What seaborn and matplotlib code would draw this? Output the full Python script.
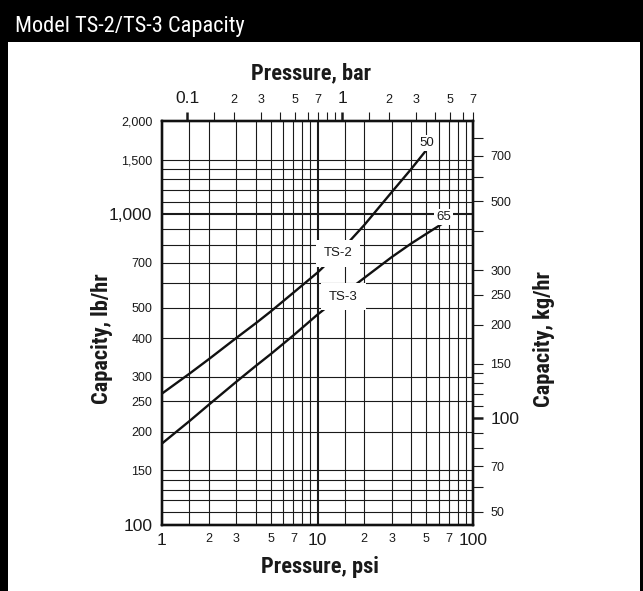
import numpy as np
import pandas as pd
import matplotlib
matplotlib.use("Agg")
import matplotlib.pyplot as plt
import seaborn as sns
from matplotlib import font_manager
from matplotlib.ticker import FixedLocator, FixedFormatter, NullFormatter, NullLocator
from matplotlib.patches import Rectangle

# ---------------- data ----------------
ts2_psi = [1, 1.5, 2, 3, 4, 5, 7, 10, 15, 20, 30, 40, 50]
ts2_lbhr = [265, 307, 342, 400, 446, 487, 560, 650, 790, 925, 1180, 1400, 1610]
ts3_psi = [1, 1.5, 2, 3, 4, 5, 7, 10, 15, 20, 30, 40, 50, 65]
ts3_lbhr = [183, 216, 244, 289, 325, 355, 408, 476, 559, 625, 729, 806, 866, 941]
series_names = ["TS-2", "TS-3"]
end_labels = ["50", "65"]

psi_ticks = [1, 2, 3, 5, 7, 10, 20, 30, 50, 70, 100]
psi_ticklabels = ["1", "2", "3", "5", "7", "10", "2", "3", "5", "7", "100"]
psi_grid = [1.5, 2, 3, 4, 5, 6, 7, 8, 9, 10, 15, 20, 30, 40, 50, 60, 70, 80, 90]
bar_ticks = [0.1, 0.15, 0.2, 0.3, 0.4, 0.5, 0.6, 0.7, 0.8, 0.9, 1, 1.5, 2, 3, 4, 5, 6, 7]
bar_ticklabels = ["0.1", "", "2", "3", "", "5", "", "7", "", "", "1", "", "2", "3", "", "5", "", "7"]
lb_ticks = [100, 150, 200, 250, 300, 400, 500, 700, 1000, 1500, 2000]
lb_ticklabels = ["100", "150", "200", "250", "300", "400", "500", "700", "1,000", "1,500", "2,000"]
lb_grid = [110, 120, 130, 140, 150, 200, 250, 300, 400, 500, 600, 700, 800, 900,
           1000, 1100, 1200, 1300, 1400, 1500]
kg_ticks = [50, 70, 100, 150, 200, 250, 300, 500, 700]
kg_ticklabels = ["50", "70", "100", "150", "200", "250", "300", "500", "700"]
kg_minor = [60, 80, 90, 110, 120, 130, 140, 400, 600, 800]

PSI_PER_BAR = 14.5038
KG_PER_LB = 0.45359

# ---------------- style ----------------
sns.set_style("white")
plt.rcParams["font.family"] = ["Liberation Sans", "DejaVu Sans"]

installed = {f.name for f in font_manager.fontManager.ttflist}
narrow_name = None
for cand in ["Liberation Sans Narrow", "Roboto Condensed", "Open Sans Condensed",
             "Noto Sans Condensed", "DejaVu Sans Condensed"]:
    if cand in installed:
        narrow_name = cand
        break
if narrow_name:
    HEAD = [narrow_name, "Liberation Sans", "DejaVu Sans"]
    head_scale = 1.15
else:
    HEAD = ["Liberation Sans", "DejaVu Sans"]
    head_scale = 1.0

W, H = 643, 591
fig = plt.figure(figsize=(W / 100, H / 100), dpi=100)
fig.patch.set_facecolor("white")

def fx(px):
    return px / W

def fy(py):
    return 1 - py / H

ax_l, ax_t, ax_r, ax_b = 162, 121, 473, 525
ax = fig.add_axes([fx(ax_l), fy(ax_b), (ax_r - ax_l) / W, (ax_b - ax_t) / H])

df = pd.concat([
    pd.DataFrame({"psi": ts2_psi, "lbhr": ts2_lbhr, "model": series_names[0]}),
    pd.DataFrame({"psi": ts3_psi, "lbhr": ts3_lbhr, "model": series_names[1]}),
])
sns.lineplot(data=df, x="psi", y="lbhr", hue="model", estimator=None, sort=False,
             palette={series_names[0]: "#111111", series_names[1]: "#111111"},
             linewidth=1.7, legend=False, ax=ax, zorder=3)

ax.set_xscale("log")
ax.set_yscale("log")
ax.set_xlim(1, 100)
ax.set_ylim(100, 2000)
ax.set_xlabel("")
ax.set_ylabel("")

# grid
for g in psi_grid:
    ax.axvline(g, color="#1a1a1a", lw=1.5 if g == 10 else 0.8, zorder=1)
for g in lb_grid:
    ax.axhline(g, color="#1a1a1a", lw=1.5 if g == 1000 else 0.8, zorder=1)

# bottom ticks
ax.xaxis.set_major_locator(FixedLocator(psi_ticks))
ax.xaxis.set_major_formatter(FixedFormatter(psi_ticklabels))
ax.xaxis.set_minor_locator(NullLocator())
ax.tick_params(axis="x", which="both", length=0, pad=6, labelsize=9, colors="#1a1a1a")
# left ticks
ax.yaxis.set_major_locator(FixedLocator(lb_ticks))
ax.yaxis.set_major_formatter(FixedFormatter(lb_ticklabels))
ax.yaxis.set_minor_locator(NullLocator())
ax.tick_params(axis="y", which="both", length=0, pad=7, labelsize=9, colors="#1a1a1a")

for sp in ax.spines.values():
    sp.set_linewidth(1.6)
    sp.set_color("#111111")

# curve labels
lab_pos = [(13.6, 750), (14.7, 543)]
for name, (x, y) in zip(series_names, lab_pos):
    ax.text(x, y, name, ha="center", va="center", fontsize=9.5, color="#1a1a1a", zorder=5,
            bbox=dict(facecolor="white", edgecolor="none", pad=5.5))
end_pos = [(50.4, 1702), (64.4, 984)]
for name, (x, y) in zip(end_labels, end_pos):
    ax.text(x, y, name, ha="center", va="center", fontsize=9.5, color="#1a1a1a", zorder=5,
            bbox=dict(facecolor="white", edgecolor="none", pad=1.5))

# top axis (bar)
axt = ax.twiny()
axt.set_xscale("log")
axt.set_xlim(1 / PSI_PER_BAR, 7.0)
axt.xaxis.set_major_locator(FixedLocator(bar_ticks))
axt.xaxis.set_major_formatter(FixedFormatter(bar_ticklabels))
axt.xaxis.set_minor_locator(NullLocator())
axt.tick_params(axis="x", which="major", direction="out", length=6.5, width=0.8,
                pad=4, labelsize=9, colors="#1a1a1a", top=True, labeltop=True)

# right axis (kg/hr)
axr = ax.twinx()
axr.set_yscale("log")
axr.set_ylim(100 * KG_PER_LB, 2000 * KG_PER_LB)
axr.yaxis.set_major_locator(FixedLocator(kg_ticks))
axr.yaxis.set_major_formatter(FixedFormatter(kg_ticklabels))
axr.yaxis.set_minor_locator(FixedLocator(kg_minor))
axr.yaxis.set_minor_formatter(NullFormatter())
axr.tick_params(axis="y", which="both", direction="out", length=7.5, width=0.8,
                pad=5, labelsize=9, colors="#1a1a1a")

for a in (axt, axr):
    for sp in a.spines.values():
        sp.set_linewidth(1.6)
        sp.set_color("#111111")

fig.canvas.draw()

big = 12.5
for lbl in ax.get_xticklabels():
    if lbl.get_text() in ("1", "10", "100"):
        lbl.set_fontsize(big)
for lbl in ax.get_yticklabels():
    if lbl.get_text() in ("100", "1,000"):
        lbl.set_fontsize(big)
for lbl in axt.get_xticklabels():
    if lbl.get_text() in ("0.1", "1"):
        lbl.set_fontsize(big)
for lbl in axr.get_yticklabels():
    if lbl.get_text() == "100":
        lbl.set_fontsize(big)

for t, v in zip(axt.xaxis.get_major_ticks(), bar_ticks):
    if v in (0.1, 1):
        t.tick2line.set_markeredgewidth(1.8)
for t, v in zip(axr.yaxis.get_major_ticks(), kg_ticks):
    if v == 100:
        t.tick2line.set_markeredgewidth(1.8)

# axis titles
tsize = 14.0 * head_scale
fig.text(fx(311), fy(79), "Pressure, bar", ha="center", va="baseline",
         fontsize=tsize, fontweight="bold", family=HEAD, color="#1a1a1a")
fig.text(fx(320), fy(573), "Pressure, psi", ha="center", va="baseline",
         fontsize=tsize, fontweight="bold", family=HEAD, color="#1a1a1a")
fig.text(fx(102), fy(339), "Capacity, lb/hr", ha="center", va="center", rotation=90,
         fontsize=tsize, fontweight="bold", family=HEAD, color="#1a1a1a")
fig.text(fx(544), fy(339), "Capacity, kg/hr", ha="center", va="center", rotation=90,
         fontsize=tsize, fontweight="bold", family=HEAD, color="#1a1a1a")

# header bar and frame
HB = 42
fig.add_artist(Rectangle((0, fy(HB)), 1, HB / H, transform=fig.transFigure,
                         facecolor="black", edgecolor="none"))
fig.text(fx(15), fy(32), "Model TS-2/TS-3 Capacity", ha="left", va="baseline",
         fontsize=14.0 * head_scale, family=HEAD, color="white")
fig.add_artist(Rectangle((0, 0), 8 / W, 1, transform=fig.transFigure,
                         facecolor="black", edgecolor="none"))
fig.add_artist(Rectangle((1 - 3 / W, 0), 3 / W, 1, transform=fig.transFigure,
                         facecolor="black", edgecolor="none"))

fig.savefig("out.png", dpi=100)
